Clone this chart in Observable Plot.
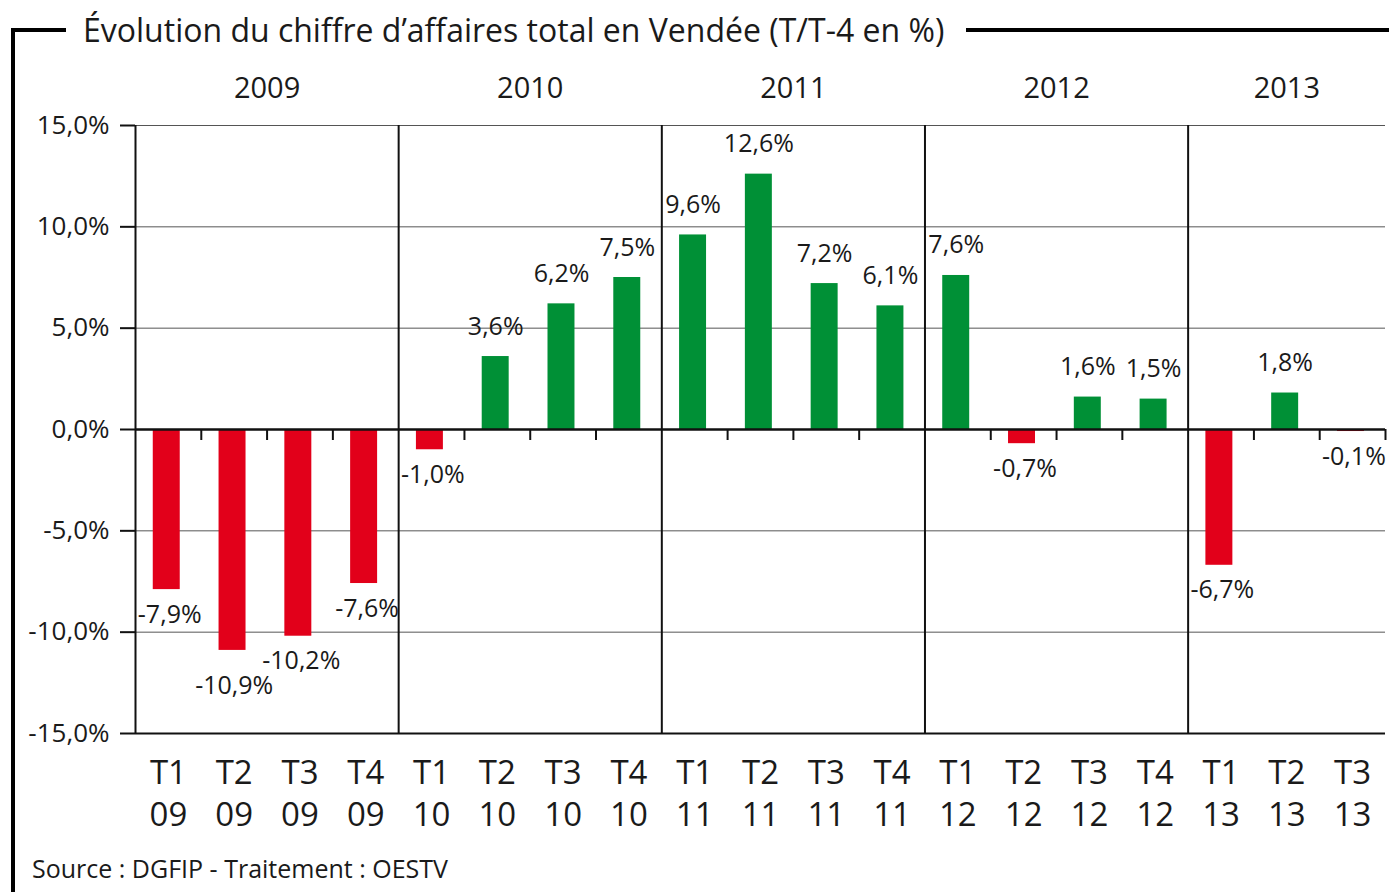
<!DOCTYPE html>
<html><head><meta charset="utf-8">
<script src="https://cdn.jsdelivr.net/npm/d3@7"></script>
<script src="https://cdn.jsdelivr.net/npm/@observablehq/plot@0.6"></script>
<style>
body{margin:0;background:#fff;font-family:"Open Sans",sans-serif;color:#1a1a1a;}
#wrap{position:relative;width:1389px;height:892px;overflow:hidden;background:#fff;}
#frameV{position:absolute;left:11px;top:28px;width:4px;height:870px;background:#000;z-index:2;}
#frameH{position:absolute;left:11px;top:28px;width:1378px;height:4px;background:#000;z-index:2;}
#title{position:absolute;left:66px;top:9px;padding:0 22px 0 17px;background:#fff;font-size:32px;line-height:42px;white-space:nowrap;z-index:3;}
#chart{position:absolute;left:0;top:60px;z-index:1;}
#source{position:absolute;left:32px;top:851px;font-size:25px;white-space:nowrap;z-index:3;}
</style></head>
<body><div id="wrap">
<div id="frameV"></div><div id="frameH"></div>
<div id="title">Évolution du chiffre d’affaires total en Vendée (T/T-4 en %)</div>
<div id="chart"></div>
<div id="source">Source : DGFIP - Traitement : OESTV</div>
</div>
<script>
const quarters = ["T1","T2","T3","T4","T1","T2","T3","T4","T1","T2","T3","T4","T1","T2","T3","T4","T1","T2","T3"];
const yearShort = ["09","09","09","09","10","10","10","10","11","11","11","11","12","12","12","12","13","13","13"];
const values = [-7.9,-10.9,-10.2,-7.6,-1.0,3.6,6.2,7.5,9.6,12.6,7.2,6.1,7.6,-0.7,1.6,1.5,-6.7,1.8,-0.1];
const years = ["2009","2010","2011","2012","2013"];
const quartersPerYear = [4,4,4,4,3];
const yTicks = [-15,-10,-5,0,5,10,15];

const data = values.map((v,i)=>({i, q: quarters[i], yr: yearShort[i], value: v}));
let start = 0;
const yearRows = years.map((y,k)=>{ const r = {year: y, start, end: start + quartersPerYear[k]}; start += quartersPerYear[k]; return r; });
const n = values.length;
const yearBounds = yearRows.slice(1).map(r=>r.start);
const minorBounds = d3.range(1, n+1).filter(b=>!yearBounds.includes(b));
const fmt = v => v.toFixed(1).replace(".", ",") + "%";
const red = "#e2001a", green = "#009036";
const deepest = d3.least(data, d=>d.value);

const chart = Plot.plot({
  width: 1389, height: 790,
  marginTop: 65, marginBottom: 117, marginLeft: 135, marginRight: 4,
  x: {domain: [0, n], axis: null},
  y: {domain: [-15, 15], axis: null},
  style: {fontFamily: "'Open Sans', sans-serif", fontSize: "25px", color: "#1a1a1a", background: "transparent", overflow: "visible"},
  marks: [
    Plot.ruleY(yTicks.filter(t=>t!==0 && t!==-15), {stroke: "#555", strokeWidth: 1}),
    Plot.rect(data, {x1: d=>d.i+0.27, x2: d=>d.i+0.68, y1: d=>0, y2: "value", fill: d=>d.value<0?red:green}),
    Plot.ruleX(yearBounds, {stroke: "#111", strokeWidth: 2}),
    Plot.ruleX([0], {stroke: "#111", strokeWidth: 2}),
    Plot.ruleY([-15], {stroke: "#111", strokeWidth: 2}),
    Plot.ruleY([0], {stroke: "#111", strokeWidth: 2.5}),
    Plot.ruleX(minorBounds, {y1: d=>0, y2: d=>0, insetBottom: -11, stroke: "#111", strokeWidth: 2}),
    Plot.axisY({ticks: yTicks, tickFormat: fmt, label: null, tickSize: 15, tickPadding: 11, fontSize: 26, stroke: "#111", strokeWidth: 2}),
    Plot.axisX({ticks: data.map(d=>d.i+0.5), tickFormat: (t)=>{const d = data[Math.floor(t)]; return d.q + "\n" + d.yr;}, label: null, tickSize: 0, tickPadding: 21, fontSize: 33, lineHeight: 1.27}),
    Plot.text(yearRows, {x: d=>(d.start+d.end)/2, y: d=>15, dy: -37, text: "year", fontSize: 29}),
    Plot.text(data.filter(d=>d.value>=0), {x: d=>d.i+0.475, y: "value", dy: -30, text: d=>fmt(d.value), fontSize: 25}),
    Plot.text(data.filter(d=>d.value<0 && d!==deepest), {x: d=>d.i+0.52, y: "value", dy: 25, text: d=>fmt(d.value), fontSize: 25}),
    Plot.text([deepest], {x: d=>d.i+0.5, y: "value", dy: 36, text: d=>fmt(d.value), fontSize: 25})
  ]
});
document.getElementById("chart").append(chart);
</script>
</body></html>
